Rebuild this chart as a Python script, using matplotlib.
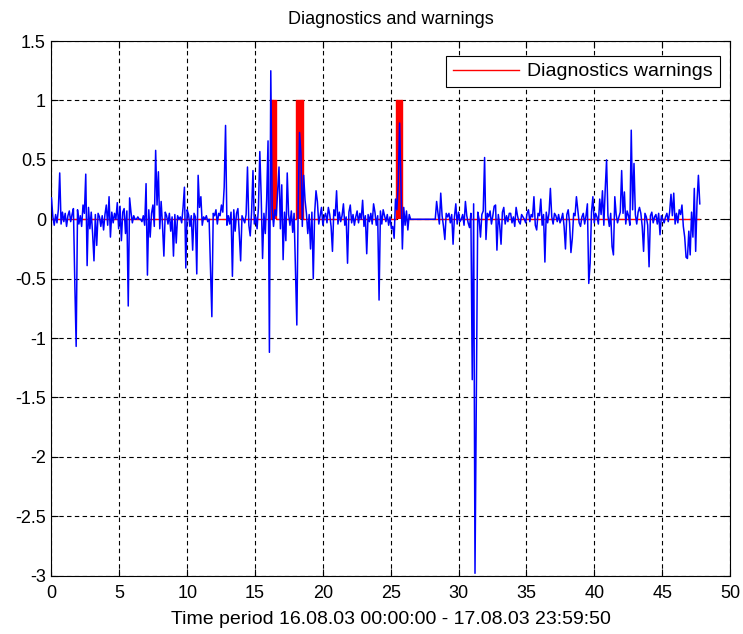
import numpy as np
import matplotlib
matplotlib.use("Agg")
import matplotlib.pyplot as plt

plt.rcParams['font.family'] = ['Liberation Sans', 'DejaVu Sans']

# sampling: one value every ~0.1 h, starting at 0
sample_step = 0.101
signal = [
    # 0 h
    0.18, 0.02, -0.05, 0.04, -0.03, 0.08, 0.39, -0.04, 0.06, -0.02,
    # 1 h
    0.05, -0.06, 0.03, 0.07, -0.02, 0.04, 0.09, -0.53, -1.07, 0.08,
    # 2 h
    -0.04, 0.03, -0.06, 0.12, 0.05, 0.38, -0.39, 0.10, -0.08, 0.06,
    # 3 h
    -0.12, -0.35, 0.04, -0.22, 0.05, 0.02, -0.06, 0.03, -0.09, 0.04,
    # 4 h
    0.12, -0.05, 0.19, -0.15, 0.06, -0.03, 0.05, 0.00, 0.14, -0.08,
    # 5 h
    0.11, -0.18, 0.06, 0.09, -0.12, 0.07, -0.73, 0.18, 0.06, -0.03,
    # 6 h
    0.03, 0.00, 0.00, 0.02, 0.00, 0.00, -0.02, 0.03, -0.05, 0.30,
    # 7 h
    -0.47, 0.08, -0.15, 0.05, 0.12, -0.06, 0.58, 0.12, 0.40, -0.08,
    # 8 h
    0.15, -0.05, -0.31, 0.06, 0.03, -0.04, 0.05, -0.10, 0.02, -0.31,
    # 9 h
    0.04, -0.20, 0.03, 0.00, 0.02, -0.03, 0.10, 0.27, -0.41, 0.08,
    # 10 h
    0.04, -0.06, 0.03, -0.26, 0.05, 0.02, -0.46, 0.37, 0.10, 0.19,
    # 11 h
    -0.05, 0.02, 0.00, 0.03, -0.02, 0.00, -0.41, -0.82, 0.05, 0.03,
    # 12 h
    0.08, -0.04, 0.05, 0.03, 0.12, 0.06, 0.27, 0.79, -0.05, 0.03,
    # 13 h
    -0.04, 0.06, -0.48, 0.08, -0.10, 0.05, 0.09, -0.12, -0.35, 0.03,
    # 14 h
    0.00, -0.03, 0.04, 0.44, -0.05, -0.14, 0.06, 0.41, -0.04, 0.02,
    # 15 h
    -0.08, 0.10, 0.57, 0.19, -0.33, 0.05, -0.12, 0.17, 0.66, -1.12,
    # 16 h
    1.25, 0.10, -0.06, 0.08, 0.03, 0.24, 0.44, -0.08, 0.29, -0.34,
    # 17 h
    0.06, -0.18, 0.39, 0.04, -0.05, 0.07, -0.11, 0.05, -0.41, -0.89,
    # 18 h
    0.12, 0.73, 0.55, -0.06, 0.37, 0.16, 0.05, -0.12, 0.04, -0.25,
    # 19 h
    0.06, -0.50, 0.05, 0.24, 0.15, -0.04, 0.03, 0.10, -0.05, 0.02,
    # 20 h
    0.05, -0.03, 0.10, 0.04, -0.06, -0.27, 0.08, 0.03, 0.24, -0.04,
    # 21 h
    0.06, -0.02, 0.03, 0.13, -0.05, 0.02, -0.37, 0.06, 0.12, -0.03,
    # 22 h
    0.04, -0.05, 0.02, 0.07, -0.03, 0.05, 0.00, 0.16, -0.06, 0.03,
    # 23 h
    -0.29, 0.04, -0.02, 0.05, -0.04, 0.13, 0.06, -0.05, 0.03, -0.68,
    # 24 h
    0.07, -0.04, 0.08, 0.03, -0.02, 0.04, -0.05, 0.02, -0.08, -0.06,
    # 25 h
    -0.16, 0.17, 0.08, 0.30, 0.81, 0.30, -0.25, 0.10, -0.05, 0.07,
    # 26 h
    -0.09, 0.04, 0.00, 0.00, 0.00, 0.00, 0.00, 0.00, 0.00, 0.00,
    # 27 h
    0.00, 0.00, 0.00, 0.00, 0.00, 0.00, 0.00, 0.00, 0.00, 0.00,
    # 28 h
    0.00, 0.15, 0.05, -0.04, 0.22, 0.03, -0.06, -0.17, 0.05, 0.02,
    # 29 h
    0.05, -0.03, 0.04, -0.21, 0.02, 0.13, -0.04, 0.06, -0.02, 0.00,
    # 30 h
    0.04, -0.05, 0.15, 0.03, -0.03, -0.07, 0.05, -1.35, 0.13, -2.98,
    # 31 h
    -1.48, 0.06, 0.00, -0.15, 0.04, 0.07, 0.52, -0.17, 0.05, 0.02,
    # 32 h
    0.07, -0.04, 0.03, 0.11, 0.12, -0.26, 0.04, -0.05, -0.21, 0.06,
    # 33 h
    0.10, -0.04, 0.03, -0.02, 0.05, 0.05, -0.03, 0.02, -0.06, 0.10,
    # 34 h
    0.03, -0.02, -0.04, 0.04, 0.02, 0.00, -0.03, 0.05, 0.08, -0.02,
    # 35 h
    0.04, 0.02, 0.19, -0.05, -0.09, 0.05, 0.03, 0.17, -0.05, 0.04,
    # 36 h
    -0.36, 0.06, -0.03, 0.05, 0.26, 0.02, -0.04, 0.05, 0.03, -0.02,
    # 37 h
    0.04, -0.03, 0.00, 0.05, -0.06, -0.25, 0.04, 0.08, -0.03, -0.28,
    # 38 h
    -0.16, 0.05, 0.03, 0.19, 0.08, -0.03, -0.06, 0.02, 0.05, -0.04,
    # 39 h
    0.03, 0.13, -0.54, -0.37, 0.06, 0.19, -0.03, 0.05, 0.02, -0.04,
    # 40 h
    0.17, 0.04, 0.24, -0.05, 0.25, 0.50, 0.03, -0.06, 0.05, -0.23,
    # 41 h
    -0.30, 0.19, 0.04, -0.03, 0.02, 0.06, 0.41, 0.05, 0.23, -0.04,
    # 42 h
    0.07, 0.03, -0.05, 0.75, 0.08, 0.47, 0.04, -0.04, 0.06, 0.10,
    # 43 h
    0.05, -0.06, -0.27, 0.05, 0.02, -0.05, -0.40, 0.03, 0.06, -0.03,
    # 44 h
    0.02, 0.04, -0.04, 0.05, -0.13, 0.03, 0.00, -0.03, 0.02, 0.05,
    # 45 h
    -0.02, 0.06, 0.21, 0.03, 0.22, -0.04, 0.05, -0.03, 0.08, 0.04,
    # 46 h
    0.12, -0.06, -0.15, -0.32, -0.33, -0.10, -0.30, 0.06, -0.15, 0.26,
    # 47 h
    -0.27, 0.15, 0.37, 0.13,
]
time = np.arange(len(signal)) * sample_step

# diagnostics warnings (0 = none, 1 = warning)
warn_time = [0.0, 16.14, 16.14, 16.51, 16.51, 18.02, 18.02, 18.53, 18.53,
             25.39, 25.39, 25.81, 25.81, 47.7]
warn_value = [0, 0, 1, 1, 0, 0, 1, 1, 0, 0, 1, 1, 0, 0]

x_ticks = [0, 5, 10, 15, 20, 25, 30, 35, 40, 45, 50]
y_ticks = [-3, -2.5, -2, -1.5, -1, -0.5, 0, 0.5, 1, 1.5]
y_tick_labels = ['-3', '-2.5', '-2', '-1.5', '-1', '-0.5', '0', '0.5', '1', '1.5']

fig = plt.figure(figsize=(7.43, 6.34), dpi=100)
ax = fig.add_axes([0.0693, 0.092, 0.9132, 0.8432])

ax.fill_between(warn_time, 0, warn_value, color='red', lw=0, zorder=2)
ax.plot(warn_time, warn_value, color='red', lw=1.0, zorder=2,
        label='Diagnostics warnings')
ax.plot(time, signal, color='blue', lw=1.1, zorder=3)

ax.set_xlim(0, 50)
ax.set_ylim(-3, 1.5)
ax.set_xticks(x_ticks)
ax.set_yticks(y_ticks)
ax.set_yticklabels(y_tick_labels)
ax.tick_params(direction='in', top=True, right=True, length=5,
               labelsize=13, width=0.8, pad=4)
ax.tick_params(axis='x', pad=7)
ax.grid(True, color='black', linestyle=(0, (4, 3)), linewidth=0.8)
for s in ax.spines.values():
    s.set_linewidth(0.8)

ax.set_title('Diagnostics and warnings', fontsize=13, pad=12)
ax.set_xlabel('Time period 16.08.03 00:00:00 - 17.08.03 23:59:50',
              fontsize=14, labelpad=6)

leg = ax.legend(loc='upper right', bbox_to_anchor=(0.985, 0.972),
                borderaxespad=0, fontsize=14, fancybox=False, framealpha=1,
                edgecolor='black', handlelength=3.4, handletextpad=0.45,
                borderpad=0.35)
leg.get_frame().set_linewidth(0.8)

fig.savefig('out.png', dpi=100)
